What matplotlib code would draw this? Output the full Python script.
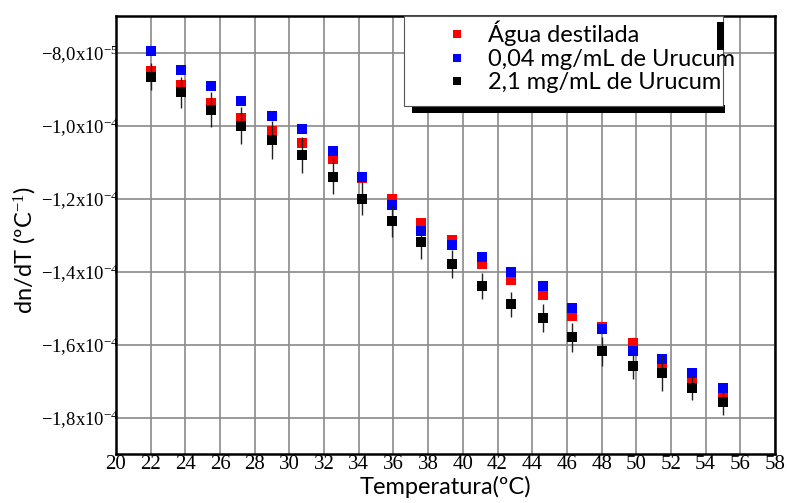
import matplotlib
matplotlib.use('Agg')
import matplotlib.pyplot as plt
from matplotlib.patches import Rectangle
from matplotlib.ticker import FixedLocator, FixedFormatter

# temperatures (C)
temperatura = [22.0, 23.75, 25.5, 27.2, 29.0, 30.7, 32.5, 34.2, 35.9, 37.6,
               39.4, 41.1, 42.8, 44.6, 46.3, 48.0, 49.8, 51.5, 53.2, 55.0]

# dn/dT values in units of 1e-5 / C
agua = [-8.50, -8.90, -9.37, -9.79, -10.16, -10.49, -10.91, -11.43, -12.00, -12.66,
        -13.14, -13.80, -14.22, -14.65, -15.21, -15.52, -15.95, -16.56, -16.97, -17.46]
urucum_004 = [-7.97, -8.47, -8.91, -9.33, -9.75, -10.10, -10.69, -11.42, -12.19, -12.89,
              -13.27, -13.60, -14.00, -14.40, -14.99, -15.58, -16.17, -16.40, -16.78, -17.19]
urucum_21 = [-8.66, -9.09, -9.57, -10.00, -10.40, -10.80, -11.40, -12.00, -12.61, -13.20,
             -13.80, -14.40, -14.90, -15.28, -15.80, -16.19, -16.59, -16.78, -17.18, -17.58]
erro_21 = [0.38, 0.42, 0.48, 0.52, 0.53, 0.49, 0.49, 0.46, 0.44, 0.46,
           0.38, 0.36, 0.34, 0.38, 0.40, 0.40, 0.36, 0.49, 0.34, 0.36]

labels = ['Água destilada', '0,04 mg/mL de Urucum', '2,1 mg/mL de Urucum']

x_ticks = list(range(20, 59, 2))
y_ticks = [-8.0, -10.0, -12.0, -14.0, -16.0, -18.0]
y_ticklabels = ['\u22128,0x10$^{-5}$', '\u22121,0x10$^{-4}$', '\u22121,2x10$^{-4}$',
                '\u22121,4x10$^{-4}$', '\u22121,6x10$^{-4}$', '\u22121,8x10$^{-4}$']

plt.rcParams['mathtext.fontset'] = 'custom'
plt.rcParams['mathtext.rm'] = 'Liberation Serif'
plt.rcParams['mathtext.it'] = 'Liberation Serif:italic'
plt.rcParams['mathtext.bf'] = 'Liberation Serif:bold'

fig = plt.figure(figsize=(7.87, 5.03), dpi=100)
ax = fig.add_axes([116 / 787, 1 - 454 / 503, 659 / 787, 438 / 503])

ax.plot(temperatura, agua, 's', color='#ff0000', ms=7.5, mew=0, zorder=3, label=labels[0])
ax.plot(temperatura, urucum_004, 's', color='#0000ff', ms=7.5, mew=0, zorder=4, label=labels[1])
ax.errorbar(temperatura, urucum_21, yerr=erro_21, fmt='s', color='black', ms=7.5, mew=0,
            ecolor='#222222', elinewidth=1.0, capsize=4, capthick=1.0, zorder=5, label=labels[2])

ax.set_xlim(20, 58)
ax.set_ylim(-19.0, -7.0)
ax.xaxis.set_major_locator(FixedLocator(x_ticks))
ax.yaxis.set_major_locator(FixedLocator(y_ticks))
ax.yaxis.set_major_formatter(FixedFormatter(y_ticklabels))
ax.grid(True, color='#8a8a8a', lw=1.2)
ax.set_axisbelow(True)
ax.tick_params(axis='x', length=0, pad=1, labelsize=15)
ax.tick_params(axis='y', length=0, pad=-2, labelsize=13.5)
for lab in ax.get_xticklabels() + ax.get_yticklabels():
    lab.set_family('Liberation Serif')
for side in ax.spines.values():
    side.set_linewidth(1.8)
    side.set_color('black')

ax.set_xlabel('Temperatura(ºC)', family='Lato', fontsize=17, labelpad=1)
ax.set_ylabel('dn/dT (ºC$^{-1}$)', family='Lato', fontsize=17)
ax.yaxis.set_label_coords(-0.12, 0.466)

# legend box with its black shadow
W, H = 787, 503
fig.patches.append(Rectangle((412 / W, 1 - 113 / H), 313 / W, 8 / H, transform=fig.transFigure,
                             facecolor='black', edgecolor='none', zorder=9))
fig.patches.append(Rectangle((404 / W, 1 - 106 / H), 319 / W, 90 / H, transform=fig.transFigure,
                             facecolor='white', edgecolor='#555555', lw=0.8, zorder=10))
fig.patches.append(Rectangle((717 / W, 1 - 50 / H), 7 / W, 28 / H, transform=fig.transFigure,
                             facecolor='black', edgecolor='none', zorder=11))

h, l = ax.get_legend_handles_labels()
h = [h[0], h[1], h[2][0]]
leg = fig.legend(h, l, loc='upper left', bbox_to_anchor=(445 / W, 1 - 21 / H), frameon=False,
                 prop={'family': 'Lato', 'size': 17}, handletextpad=0.82, labelspacing=0.1,
                 handlelength=1.0, markerscale=0.85, borderaxespad=0, borderpad=0)
leg.set_zorder(12)

fig.savefig('out.png', dpi=100)
